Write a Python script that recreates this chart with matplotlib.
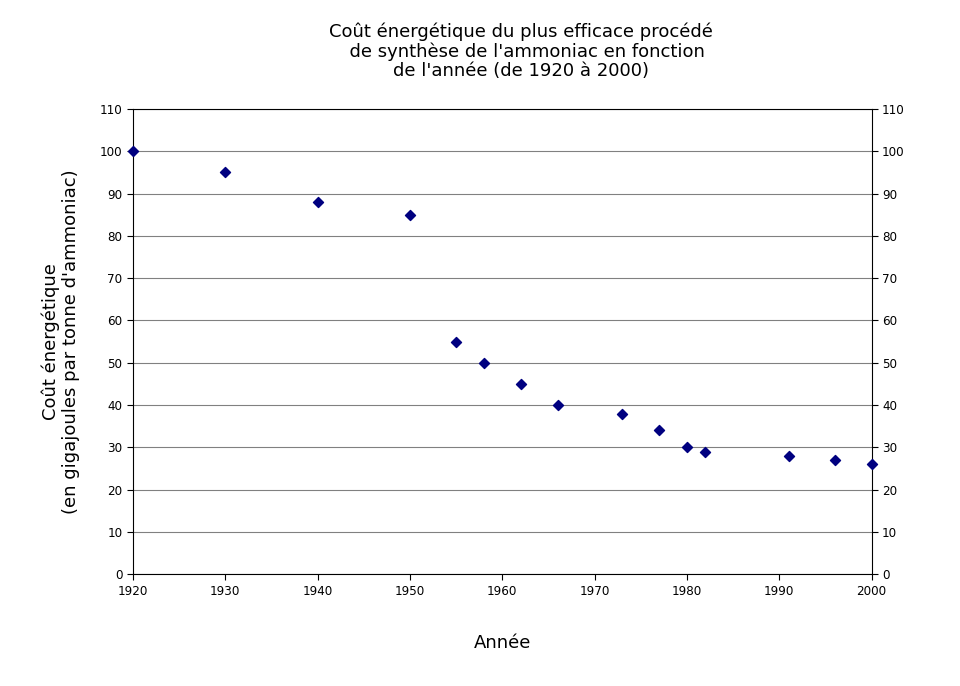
import matplotlib
matplotlib.use("Agg")
import matplotlib.pyplot as plt

years = [1920, 1930, 1940, 1950, 1955, 1958, 1962, 1966, 1973, 1977, 1980, 1982, 1991, 1996, 2000]
cost = [100, 95, 88, 85, 55, 50, 45, 40, 38, 34, 30, 29, 28, 27, 26]
yticks = list(range(0, 111, 10))
xticks = list(range(1920, 2001, 10))

plt.rcParams['font.family'] = ['DejaVu Sans']

fig = plt.figure(figsize=(9.6, 6.86), dpi=100)
ax = fig.add_axes([0.1385, 0.163, 0.7695, 0.678])
ax.scatter(years, cost, marker='D', s=26, color='#000080', zorder=3, clip_on=False)
ax.set_xlim(1920, 2000)
ax.set_ylim(0, 110)
ax.set_xticks(xticks)
ax.set_yticks(yticks)
ax.grid(axis='y', color='#808080', linewidth=0.8)
ax.set_axisbelow(True)
ax.tick_params(direction='out', length=4, labelsize=9.5)
ax.tick_params(axis='y', right=True, labelright=True)
for lab in ax.get_xticklabels() + ax.get_yticklabels():
    lab.set_stretch('condensed')

ax.set_xlabel("Année", fontsize=13, labelpad=26)
ax.set_ylabel("Coût énergétique\n(en gigajoules par tonne d'ammoniac)", fontsize=13, labelpad=14)
fig.text(0.543, 0.925, "Coût énergétique du plus efficace procédé\n  de synthèse de l'ammoniac en fonction\nde l'année (de 1920 à 2000)",
         ha='center', va='center', fontsize=13, linespacing=1.1)

fig.savefig("out.png", dpi=100)
